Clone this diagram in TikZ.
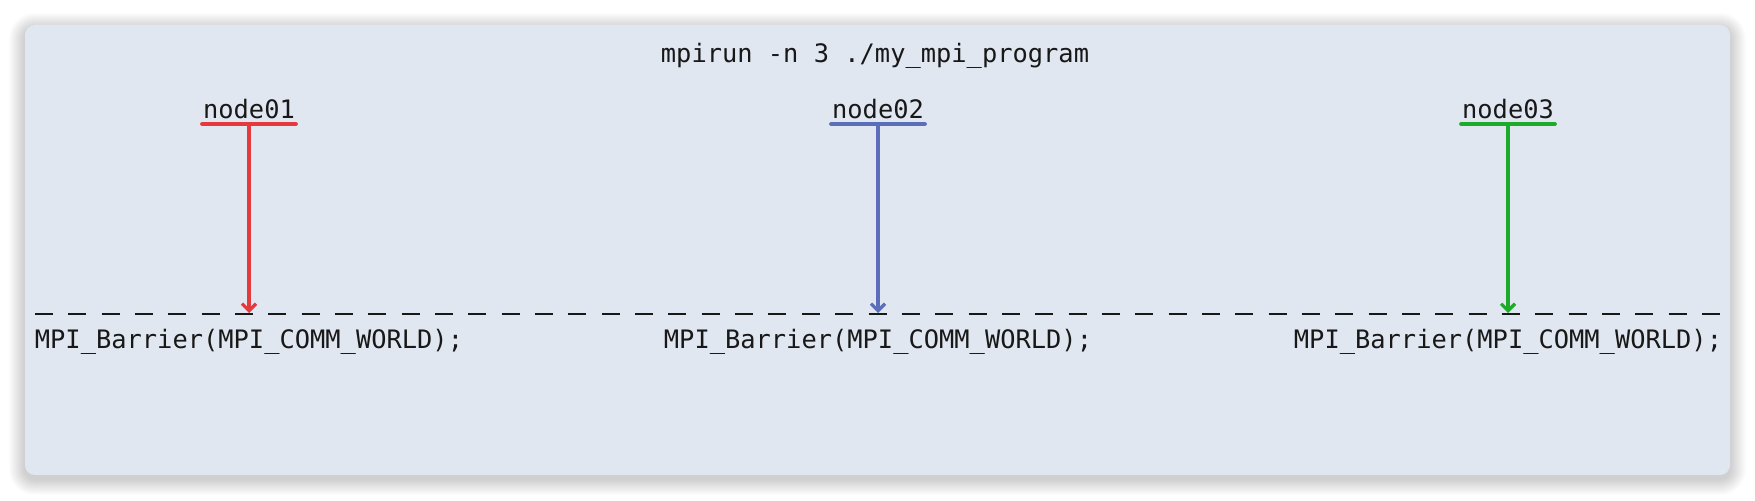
\documentclass[tikz,border=0pt]{standalone}
\usepackage{fontspec}
\setmonofont{DejaVu Sans Mono}
\usetikzlibrary{arrows.meta,positioning}
\definecolor{PanelBg}{RGB}{225,231,241}
\definecolor{TextDark}{RGB}{24,24,24}
\definecolor{NodeRed}{RGB}{229,57,61}
\definecolor{NodeBlue}{RGB}{91,110,185}
\definecolor{NodeGreen}{RGB}{30,170,42}

\begin{document}
\begin{tikzpicture}[
 x=0.5pt, y=-0.5pt,
 codetext/.style={inner sep=0pt, text=TextDark, font=\ttfamily\fontsize{12.7}{15}\selectfont},
 hostname/.style={codetext, inner xsep=0.3pt, inner ysep=2.6pt, text depth=0pt, anchor=south},
 hostline/.style={line width=2pt, line cap=round},
 sync/.style={-{Straight Barb[length=3.5pt,width=7pt]}, line width=1.6pt},
 barrier/.style={line width=1.2pt, TextDark, dash pattern=on 9pt off 7.67pt}
]
\useasboundingbox (0,0) rectangle (1755,501);
% soft shadow and panel
\foreach \s in {1,...,16}
  \fill[black, opacity=0.011, rounded corners=5pt+0.5*\s pt] (25-\s,25-\s+4) rectangle (1730+\s,475+\s+4);
\fill[PanelBg, rounded corners=5pt] (25,25) rectangle (1730,475);

\node[codetext] (cmd) at (875,56) {mpirun -n 3 ./my\_mpi\_program};

% hosts
\node[hostname] (n1) at (249,124)  {node01};
\node[hostname] (n2) at (878,124)  {node02};
\node[hostname] (n3) at (1508,124) {node03};
\draw[hostline, NodeRed]   (n1.south west) -- (n1.south east);
\draw[hostline, NodeBlue]  (n2.south west) -- (n2.south east);
\draw[hostline, NodeGreen] (n3.south west) -- (n3.south east);

% barrier
\coordinate (bl) at (35,314);
\coordinate (br) at (1720,314);
\draw[barrier] (bl) -- (br);
\coordinate (b1) at (249,313);
\coordinate (b2) at (878,313);
\coordinate (b3) at (1508,313);
\draw[sync, NodeRed]   (n1.south) -- (b1);
\draw[sync, NodeBlue]  (n2.south) -- (b2);
\draw[sync, NodeGreen] (n3.south) -- (b3);

\node[codetext] (c1) at (249,342)  {MPI\_Barrier(MPI\_COMM\_WORLD);};
\node[codetext] (c2) at (878,342)  {MPI\_Barrier(MPI\_COMM\_WORLD);};
\node[codetext] (c3) at (1508,342) {MPI\_Barrier(MPI\_COMM\_WORLD);};
\end{tikzpicture}
\end{document}
